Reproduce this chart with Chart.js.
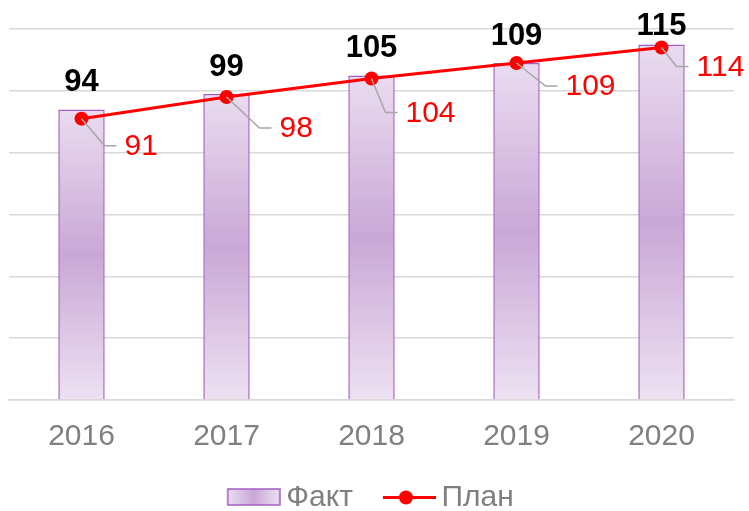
<!DOCTYPE html>
<html>
<head>
<meta charset="utf-8">
<script src="https://cdn.jsdelivr.net/npm/chart.js@4.4.1/dist/chart.umd.min.js"></script>
<style>
    html, body { margin: 0; padding: 0; background: #fff; }
    #wrap { width: 749px; height: 511px; }
</style>
</head>
<body>
<div id="wrap"><canvas id="planChart"></canvas></div>
<script>
const years = ['2016', '2017', '2018', '2019', '2020'];
const factValues = [94, 99, 105, 109, 115];
const planValues = [91, 98, 104, 109, 114];
const seriesNames = ['Факт', 'План'];
const yMin = 0;
const yMax = 120;
const yStep = 20;

// leader elbow offset of each "plan" label, relative to its point
const planLabelOffsets = [[23, 27], [33, 31], [14, 34], [29, 23], [15, 19]];

const FONT = "'Liberation Sans', Arial, sans-serif";
const BAR_EDGE = '#a35fc1';

function barGradient(context) {
    const chart = context.chart;
    const yScale = chart.scales.y;
    if (!chart.chartArea || !yScale) {
        return '#dcc4e6';
    }
    const top = yScale.getPixelForValue(factValues[context.dataIndex]);
    const bottom = yScale.getPixelForValue(0);
    const g = chart.ctx.createLinearGradient(0, top, 0, bottom);
    g.addColorStop(0, '#eadcf0');
    g.addColorStop(0.5, '#c9a8d6');
    g.addColorStop(1, '#ede1f2');
    return g;
}

// legend swatches: 7px transparent margin on the left, 52x17 visible
function makeBarSwatch() {
    const c = document.createElement('canvas');
    c.width = 61; c.height = 19;
    const ctx = c.getContext('2d');
    const g = ctx.createLinearGradient(8, 0, 60, 0);
    g.addColorStop(0, '#eadcf0');
    g.addColorStop(0.5, '#c9a8d6');
    g.addColorStop(1, '#ede1f2');
    ctx.fillStyle = g;
    ctx.fillRect(8, 1, 52, 16);
    ctx.strokeStyle = BAR_EDGE;
    ctx.lineWidth = 1.5;
    ctx.strokeRect(8, 1, 52, 16);
    return c;
}

function makeLineSwatch() {
    const c = document.createElement('canvas');
    c.width = 61; c.height = 19;
    const ctx = c.getContext('2d');
    ctx.strokeStyle = '#ff0000';
    ctx.lineWidth = 3;
    ctx.beginPath();
    ctx.moveTo(8, 9.5);
    ctx.lineTo(61, 9.5);
    ctx.stroke();
    ctx.fillStyle = '#ff0000';
    ctx.beginPath();
    ctx.arc(31, 9.5, 7, 0, Math.PI * 2);
    ctx.fill();
    return c;
}

const valueLabels = {
    id: 'valueLabels',
    afterDatasetsDraw(chart) {
        const ctx = chart.ctx;
        ctx.save();

        // fact labels above bars
        ctx.font = 'bold 31px ' + FONT;
        ctx.fillStyle = '#000000';
        ctx.textAlign = 'center';
        ctx.textBaseline = 'alphabetic';
        chart.getDatasetMeta(0).data.forEach((bar, i) => {
            const base = Math.max(bar.y - 18, 35);
            ctx.fillText(String(factValues[i]), bar.x, base);
        });

        // plan labels with leader lines
        ctx.font = '30px ' + FONT;
        ctx.textAlign = 'left';
        ctx.textBaseline = 'middle';
        chart.getDatasetMeta(1).data.forEach((pt, i) => {
            const [dx, dy] = planLabelOffsets[i];
            const ex = pt.x + dx;
            const ey = pt.y + dy;
            ctx.strokeStyle = '#a6a6a6';
            ctx.lineWidth = 1.5;
            ctx.beginPath();
            ctx.moveTo(pt.x, pt.y);
            ctx.lineTo(ex, ey);
            ctx.lineTo(ex + 12, ey);
            ctx.stroke();
            ctx.fillStyle = '#ff0000';
            ctx.fillText(String(planValues[i]), ex + 20, ey + 1);
        });
        ctx.restore();
    }
};

const barSwatch = makeBarSwatch();
const lineSwatch = makeLineSwatch();

new Chart(document.getElementById('planChart'), {
    data: {
        labels: years,
        datasets: [
            {
                type: 'bar',
                label: seriesNames[0],
                data: factValues,
                backgroundColor: barGradient,
                borderColor: BAR_EDGE,
                borderWidth: 1.5,
                barPercentage: 0.32,
                categoryPercentage: 1,
                order: 2
            },
            {
                type: 'line',
                label: seriesNames[1],
                data: planValues,
                borderColor: '#ff0000',
                backgroundColor: '#ff0000',
                borderWidth: 3,
                pointRadius: 7,
                pointHoverRadius: 7,
                pointBorderWidth: 0,
                pointBackgroundColor: '#ff0000',
                tension: 0,
                order: 1
            }
        ]
    },
    options: {
        responsive: true,
        maintainAspectRatio: false,
        animation: false,
        layout: {
            padding: { left: 9, right: 15, top: 29, bottom: -11.5 }
        },
        scales: {
            x: {
                grid: { display: false, drawTicks: false },
                border: { display: true, color: '#d9d9d9', width: 1.5 },
                ticks: {
                    color: '#808080',
                    font: { family: FONT, size: 30, lineHeight: 1 },
                    padding: 22
                },
                afterFit(scale) {
                    scale.height = 51;
                }
            },
            y: {
                min: yMin,
                max: yMax,
                ticks: { display: false, stepSize: yStep },
                border: { display: false },
                grid: { color: '#d9d9d9', lineWidth: 1.5, drawTicks: false }
            }
        },
        plugins: {
            tooltip: { enabled: false },
            legend: {
                position: 'bottom',
                labels: {
                    usePointStyle: true,
                    pointStyleWidth: 42,
                    boxHeight: 17,
                    padding: 31.5,
                    color: '#808080',
                    font: { family: FONT, size: 30 },
                    generateLabels(chart) {
                        return [
                            { text: seriesNames[0], pointStyle: barSwatch, fontColor: '#808080', datasetIndex: 0, lineWidth: 0, strokeStyle: 'transparent', fillStyle: 'transparent' },
                            { text: seriesNames[1], pointStyle: lineSwatch, fontColor: '#808080', datasetIndex: 1, lineWidth: 0, strokeStyle: 'transparent', fillStyle: 'transparent' }
                        ];
                    }
                }
            }
        }
    },
    plugins: [valueLabels]
});
</script>
</body>
</html>
